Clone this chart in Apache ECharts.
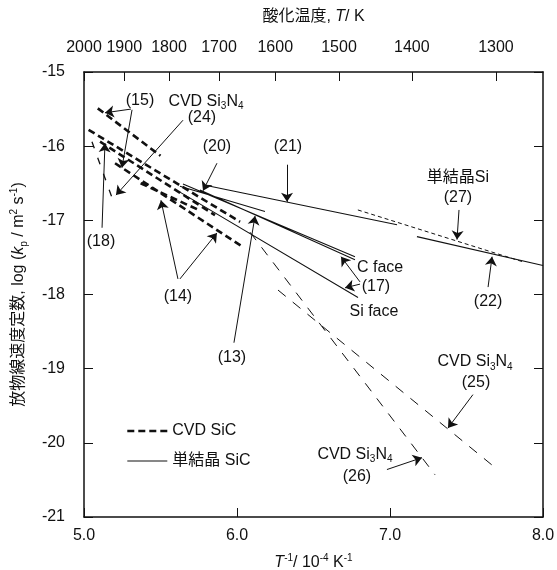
<!DOCTYPE html>
<html>
<head>
<meta charset="utf-8">
<script src="https://cdn.jsdelivr.net/npm/echarts@6/dist/echarts.min.js"></script>
<style>
  html, body { margin: 0; padding: 0; background: #fff; }
  #chart { width: 557px; height: 570px; }
</style>
</head>
<body>
<div id="chart"></div>
<script>
// 上軸の温度目盛 (K)
const temps = [2000, 1900, 1800, 1700, 1600, 1500, 1400, 1300];

// CVD SiC (太い破線)
const cvdSiC = [
  [[5.09, -15.49], [5.50, -16.13]],
  [[5.03, -15.78], [6.02, -17.02]],
  [[5.105, -15.94], [5.856, -16.93]],
  [[5.203, -16.23], [6.039, -17.36]],
  [[5.37, -16.50], [5.76, -16.87]]
];
// 単結晶 SiC (細い実線)
const singleSiC = [
  [[5.824, -16.54], [7.046, -17.06]],
  [[5.627, -16.54], [6.183, -16.88]],
  [[5.647, -16.51], [6.771, -17.49]],
  [[5.758, -16.59], [6.771, -17.53]],
  [[5.627, -16.62], [6.791, -18.04]]
];
// 単結晶 Si
const singleSi22 = [[7.176, -17.22], [8.0, -17.61]];
const singleSi27 = [[6.79, -16.86], [7.87, -17.56]];
// CVD Si3N4
const si3n4_24 = [[5.052, -15.94], [5.196, -16.77]];
const si3n4_25 = [[6.268, -17.94], [7.667, -20.30]];
const si3n4_26 = [[6.085, -17.16], [7.294, -20.43]];

// 注釈の矢印 [始点, 先端]
const arrows = [
  [[5.307, -15.50], [5.137, -15.55]],
  [[5.314, -15.51], [5.248, -16.29]],
  [[5.647, -15.65], [5.209, -16.66]],
  [[5.118, -17.10], [5.137, -15.96]],
  [[5.869, -16.23], [5.778, -16.60]],
  [[6.327, -16.25], [6.327, -16.75]],
  [[5.980, -18.65], [6.118, -16.94]],
  [[5.614, -17.79], [5.503, -16.73]],
  [[5.627, -17.79], [5.869, -17.17]],
  [[6.804, -17.83], [6.680, -17.49]],
  [[6.804, -17.86], [6.706, -17.91]],
  [[7.451, -16.86], [7.438, -17.26]],
  [[7.641, -17.90], [7.667, -17.49]],
  [[7.542, -19.35], [7.379, -19.80]],
  [[6.980, -20.36], [7.209, -20.20]]
];

// 注釈テキスト [x, y, text]
const notes = [
  [5.366, -15.38, '(15)'],
  [5.797, -15.40, 'CVD Si{sub|3}N{sub|4}'],
  [5.771, -15.62, '(24)'],
  [5.869, -16.01, '(20)'],
  [6.333, -16.01, '(21)'],
  [7.444, -16.43, '単結晶Si'],
  [7.444, -16.70, '(27)'],
  [5.111, -17.29, '(18)'],
  [5.614, -18.03, '(14)'],
  [6.935, -17.64, 'C face'],
  [6.908, -17.90, '(17)'],
  [6.895, -18.23, 'Si face'],
  [7.641, -18.10, '(22)'],
  [5.967, -18.85, '(13)'],
  [7.556, -18.91, 'CVD Si{sub|3}N{sub|4}'],
  [7.562, -19.19, '(25)'],
  [6.771, -20.16, 'CVD Si{sub|3}N{sub|4}'],
  [6.784, -20.46, '(26)']
];

const FONT = "'Liberation Sans', 'Noto Sans CJK JP', sans-serif";
const INK = '#111';

// 線分リストを null 区切りの1系列にする
function joinSegs(segs) {
  const out = [];
  segs.forEach((s, i) => {
    if (i > 0) out.push(null);
    out.push(s[0], s[1]);
  });
  return out;
}

const richText = {
  i: { fontStyle: 'italic', fontSize: 16, fontFamily: FONT, color: INK },
  sup: { fontSize: 10, fontFamily: FONT, color: INK, verticalAlign: 'top', lineHeight: 20 },
  sub: { fontSize: 10, fontFamily: FONT, color: INK, verticalAlign: 'bottom', lineHeight: 20 }
};

const chart = echarts.init(document.getElementById('chart'), null, { renderer: 'canvas' });

function plainLine(name, data, width, dash) {
  return {
    name: name,
    type: 'line',
    xAxisIndex: 0,
    yAxisIndex: 0,
    data: data,
    symbol: 'none',
    connectNulls: false,
    silent: true,
    animation: false,
    itemStyle: { color: INK },
    lineStyle: { color: INK, width: width, type: dash }
  };
}

chart.setOption({
  animation: false,
  backgroundColor: '#fff',
  color: [INK],
  textStyle: { fontFamily: FONT, color: INK },
  grid: { left: 84, right: 14, top: 72, bottom: 53, containLabel: false, outerBoundsMode: 'none' },
  legend: {
    data: [
      { name: 'CVD SiC', lineStyle: { color: INK, width: 2.6, type: [7, 4] } },
      { name: '単結晶 SiC', lineStyle: { color: INK, width: 1.1, type: 'solid' } }
    ],
    orient: 'vertical',
    left: 121,
    top: 418,
    itemWidth: 40,
    itemHeight: 14,
    itemGap: 14,
    itemStyle: { opacity: 0 },
    textStyle: { fontSize: 16, fontFamily: FONT, color: INK },
    selectedMode: false
  },
  xAxis: [
    {
      type: 'value', position: 'bottom', min: 5, max: 8, interval: 1,
      name: '{i|T}{sup|-1}/ 10{sup|-4} K{sup|-1}',
      nameLocation: 'middle', nameGap: 36,
      nameTextStyle: { fontSize: 16, fontFamily: FONT, color: INK, rich: richText },
      axisLine: { lineStyle: { color: INK, width: 1.5 } },
      axisTick: { inside: true, length: 9, lineStyle: { color: INK } },
      axisLabel: { fontSize: 16, color: INK, margin: 11, formatter: v => v.toFixed(1) },
      splitLine: { show: false }
    },
    {
      type: 'value', position: 'top', min: 5, max: 8,
      name: '酸化温度, {i|T}/ K',
      nameLocation: 'middle', nameGap: 47,
      nameTextStyle: { fontSize: 16, fontFamily: FONT, color: INK, rich: richText },
      axisLine: { lineStyle: { color: INK, width: 1.5 } },
      axisTick: { inside: true, length: 9, lineStyle: { color: INK }, customValues: temps.map(t => 1e4 / t) },
      axisLabel: { fontSize: 16, color: INK, margin: 16, customValues: temps.map(t => 1e4 / t),
        formatter: v => String(Math.round(1e4 / v)) },
      splitLine: { show: false }
    }
  ],
  yAxis: [
    {
      type: 'value', position: 'left', min: -21, max: -15, interval: 1,
      name: '放物線速度定数, log ({i|k}{sub|p} / m{sup|2} s{sup|-1})',
      nameLocation: 'middle', nameGap: 55,
      nameTextStyle: { fontSize: 16, fontFamily: FONT, color: INK, rich: richText },
      axisLine: { lineStyle: { color: INK, width: 1.5 } },
      axisTick: { inside: true, length: 9, lineStyle: { color: INK } },
      axisLabel: { fontSize: 16, color: INK, margin: 19 },
      splitLine: { show: false }
    },
    {
      type: 'value', position: 'right', min: -21, max: -15, interval: 1,
      axisLine: { lineStyle: { color: INK, width: 1.5 } },
      axisTick: { inside: true, length: 9, lineStyle: { color: INK } },
      axisLabel: { show: false },
      splitLine: { show: false }
    }
  ],
  series: [
    plainLine('CVD SiC', joinSegs(cvdSiC), 2.6, [7, 4]),
    plainLine('単結晶 SiC', joinSegs(singleSiC), 1.1, 'solid'),
    plainLine('Si(22)', singleSi22, 1.1, 'solid'),
    plainLine('Si(27)', singleSi27, 1, [4, 3]),
    plainLine('Si3N4(24)', si3n4_24, 1.3, [7, 10]),
    plainLine('Si3N4(25)', si3n4_25, 1, [10, 9]),
    plainLine('Si3N4(26)', si3n4_26, 1, [10, 9]),
    {
      name: 'arrows',
      type: 'lines',
      coordinateSystem: 'cartesian2d',
      xAxisIndex: 0,
      yAxisIndex: 0,
      polyline: false,
      silent: true,
      symbol: ['none', 'arrow'],
      symbolSize: [0, 9],
      lineStyle: { color: INK, width: 1, opacity: 1, curveness: 0 },
      data: arrows.map(a => ({ coords: a }))
    },
    {
      name: 'notes',
      type: 'scatter',
      xAxisIndex: 0,
      yAxisIndex: 0,
      symbolSize: 0,
      silent: true,
      itemStyle: { opacity: 1 },
      data: notes,
      label: {
        show: true,
        position: 'inside',
        fontSize: 16,
        fontFamily: FONT,
        color: INK,
        opacity: 1,
        formatter: p => p.data[2],
        rich: richText
      }
    }
  ]
});
</script>
</body>
</html>
